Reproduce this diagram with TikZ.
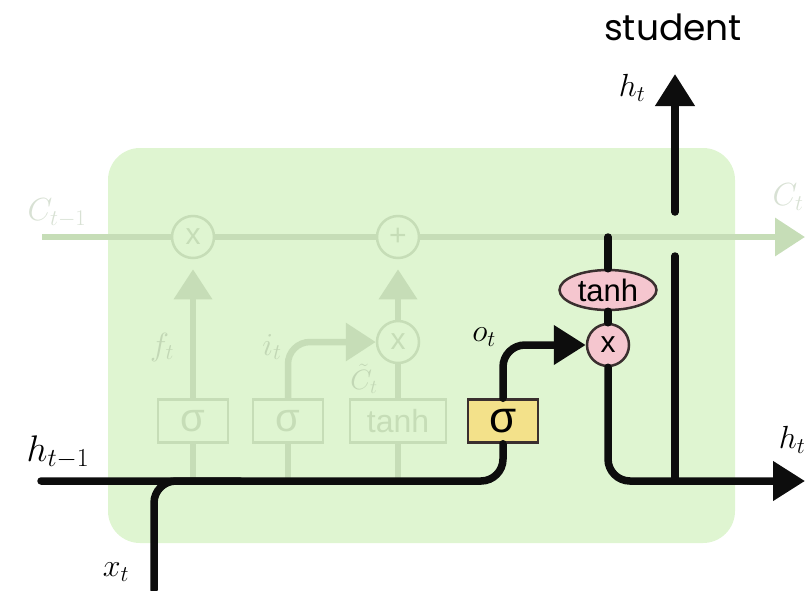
\RequirePackage{fix-cm}
\documentclass[tikz,border=0pt]{standalone}
\usepackage{fontspec}
\newfontfamily\gatefont{Liberation Sans}
\newfontfamily\capfont{Poppins}
\usetikzlibrary{arrows.meta}
\usetikzlibrary{shapes.geometric}
\definecolor{lcfill}{HTML}{DFF5D1}
\definecolor{lcfade}{HTML}{C6DDB7}
\definecolor{lcfadetext}{HTML}{C2D7B5}
\definecolor{lcfaint}{HTML}{D8E1D4}
\definecolor{lcink}{HTML}{0D0D0D}
\definecolor{lcedge}{HTML}{3A2F2F}
\definecolor{lcyellow}{HTML}{F3E18A}
\definecolor{lcpink}{HTML}{F5C6CF}
\tikzset{
  lcgate/.style={
    draw, minimum width=70pt, minimum height=43pt, inner sep=0pt,
    line width=2.5pt, font=\gatefont\fontsize{32}{36}\selectfont},
  lcfadegate/.style={lcgate, draw=lcfade, text=lcfade},
  lcop/.style={
    circle, draw, minimum size=42pt, inner sep=0pt, line width=2.5pt,
    font=\gatefont\fontsize{30}{32}\selectfont},
  lcfadeop/.style={lcop, draw=lcfade, text=lcfade},
  lcwire/.style={draw=lcink, line width=7.5pt, line cap=round},
  lcarrow/.style={lcwire, -{Triangle[length=32pt, width=38pt]}},
  lcfadewire/.style={draw=lcfade, line width=6.5pt},
  lcfadearrow/.style={lcfadewire, -{Triangle[length=30pt, width=37pt]}},
  lclabel/.style={font=\fontsize{32}{36}\selectfont},
}

\begin{document}
\begin{tikzpicture}[x=1pt, y=-1pt]
\useasboundingbox (0, 0) rectangle (805, 590);

% Cell body.
\fill[lcfill, rounded corners=32pt] (108, 148) rectangle (735, 543);

% Caption.
\node[font=\capfont\fontsize{36}{40}\selectfont] (caption) at (673, 27)
  {student};

% ---------------------------------------------------------- end points
\coordinate (cin) at (42, 237);
\coordinate (cout) at (805, 237);
\coordinate (hin) at (41, 481);
\coordinate (hout) at (805, 481);
\coordinate (xin) at (154, 590);
\coordinate (xjoin) at (240, 481);
\coordinate (ctap) at (608, 237);
\coordinate (split) at (675, 481);
\coordinate (gapbot) at (675, 256);
\coordinate (gaptop) at (675, 212);
\coordinate (htop) at (675, 74);

% ------------------------------------------------------ faded gates
\node[lcfadegate, font=\gatefont\fontsize{40}{44}\selectfont]
  (fgate) at (193, 421) {σ};
\node[lcfadegate, font=\gatefont\fontsize{40}{44}\selectfont]
  (igate) at (288, 421) {σ};
\node[lcfadegate, minimum width=96pt] (cgate) at (398, 421) {tanh};
\node[lcfadeop] (fmul) at (193, 237) {x};
\node[lcfadeop] (cadd) at (398, 237) {+};
\node[lcfadeop] (imul) at (398, 342) {x};

\draw[lcfadewire] (cin) -- (fmul) -- (cadd);
\draw[lcfadearrow] (cadd) -- (cout);
\draw[lcfadearrow, shorten >=10pt] (fgate) -- (fmul);
\draw[lcfadearrow, shorten >=10pt] (imul) -- (cadd);
\draw[lcfadearrow, rounded corners=22pt] (igate) |- (imul);
\draw[lcfadewire] (cgate) -- (imul);
\foreach \g in {fgate, igate, cgate} {
  \draw[lcfadewire] (\g) -- (\g |- hin);
}

\node[lclabel, text=lcfaint] (clast) at (57, 213) {$C_{t-1}$};
\node[lclabel, text=lcfaint] (cnext) at (788, 197) {$C_t$};
\node[lclabel, text=lcfadetext] (flab) at (162, 347) {$f_t$};
\node[lclabel, text=lcfadetext] (ilab) at (272, 347) {$i_t$};
\node[text=lcfadetext, inner sep=0pt, font=\fontsize{28}{30}\selectfont]
  (ctlab) at (364, 379) {$\tilde{C}_t$};

% ------------------------------------------------------- output gate
\node[lcgate, fill=lcyellow, draw=lcedge,
  font=\gatefont\fontsize{44}{48}\selectfont] (ogate) at (503, 421) {σ};
\node[lcop, fill=lcpink, draw=lcedge] (omul) at (608, 345) {x};
\node[ellipse, fill=lcpink, draw=lcedge, line width=2.5pt,
  minimum width=97pt, minimum height=40pt, inner sep=0pt,
  font=\gatefont\fontsize{31}{34}\selectfont] (tanhc) at (608, 290) {tanh};

\draw[lcwire, rounded corners=22pt] (hin) -| (ogate);
\draw[lcwire, rounded corners=22pt] (xin) |- (xjoin);
\draw[lcarrow, rounded corners=22pt] (ogate) |- (omul);
\draw[lcwire] (ctap) -- (tanhc) -- (omul);
\draw[lcarrow, rounded corners=22pt] (omul) |- (hout);
\draw[lcwire] (split) -- (gapbot);
\draw[lcarrow] (gaptop) -- (htop);

\node[lclabel, font=\fontsize{37}{40}\selectfont] (hlast) at (58, 452)
  {$h_{t-1}$};
\node[lclabel] (xlab) at (116, 572) {$x_t$};
\node[lclabel] (olab) at (484, 337) {$o_t$};
\node[lclabel] (htlab) at (632, 88) {$h_t$};
\node[lclabel] (hrlab) at (792, 440) {$h_t$};

\end{tikzpicture}
\end{document}
